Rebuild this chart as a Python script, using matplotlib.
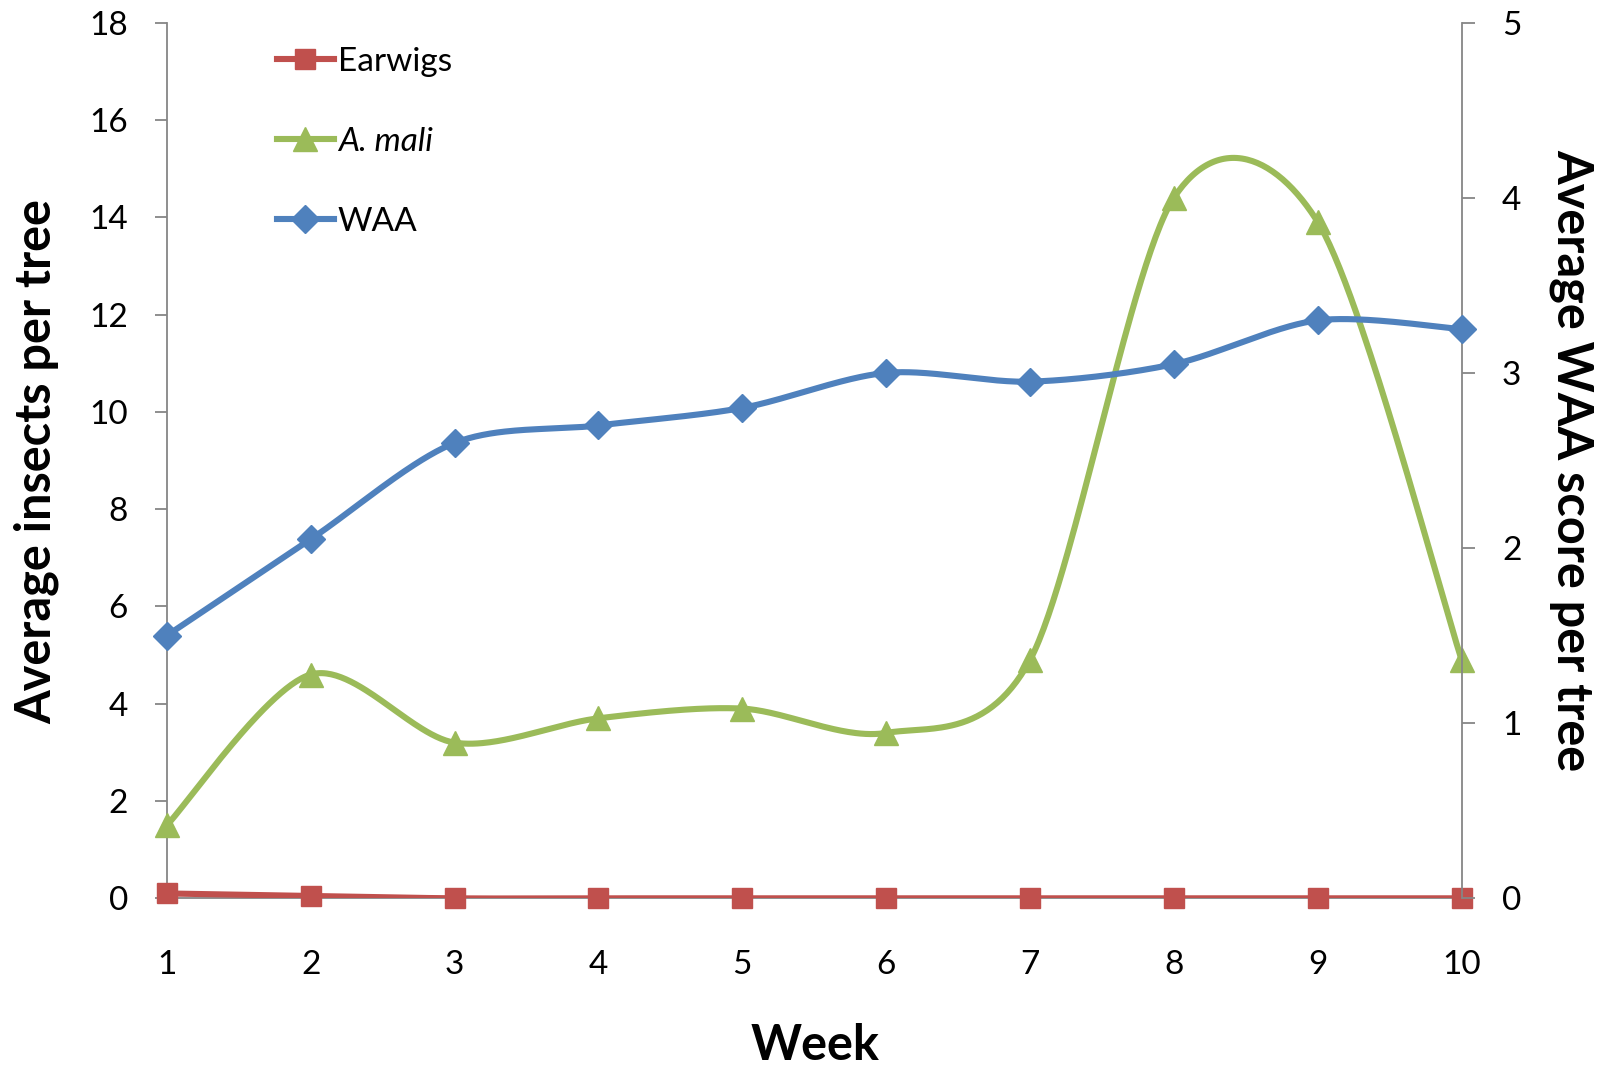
import numpy as np
import matplotlib
matplotlib.use("Agg")
import matplotlib.pyplot as plt
from matplotlib.lines import Line2D

plt.rcParams['font.family'] = ['Lato', 'DejaVu Sans']

# Weekly observations
weeks = [1, 2, 3, 4, 5, 6, 7, 8, 9, 10]
earwigs = [0.1, 0.05, 0, 0, 0, 0, 0, 0, 0, 0]
a_mali = [1.5, 4.6, 3.2, 3.7, 3.9, 3.4, 4.9, 14.4, 13.9, 4.9]
waa_score = [1.5, 2.05, 2.6, 2.7, 2.8, 3.0, 2.95, 3.05, 3.3, 3.25]

left_ticks = [0, 2, 4, 6, 8, 10, 12, 14, 16, 18]
right_ticks = [0, 1, 2, 3, 4, 5]

RED = '#C0504D'
GREEN = '#9BBB59'
BLUE = '#4F81BD'
AXIS_GREY = '#868686'


def smooth(x, y, n=60, k=0.15):
    """Cardinal-spline style Bezier smoothing through every point."""
    pts = np.column_stack([np.asarray(x, float), np.asarray(y, float)])
    P = np.vstack([pts[0], pts, pts[-1]])
    t = np.linspace(0, 1, n)[:, None]
    out = []
    for i in range(len(pts) - 1):
        p0, p1, p2, p3 = P[i], P[i + 1], P[i + 2], P[i + 3]
        c1 = p1 + (p2 - p0) * k
        c2 = p2 - (p3 - p1) * k
        seg = ((1 - t) ** 3) * p1 + 3 * ((1 - t) ** 2) * t * c1 \
            + 3 * (1 - t) * t ** 2 * c2 + t ** 3 * p2
        out.append(seg if i == 0 else seg[1:])
    curve = np.vstack(out)
    return curve[:, 0], curve[:, 1]


fig = plt.figure(figsize=(16.05, 10.66), dpi=100)
ax = fig.add_axes([0.1039, 0.1573, 0.8068, 0.8215])
ax2 = ax.twinx()

LW = 4.4
TICK_FS = 24
LABEL_FS = 35

# Left axis series
xs, ys = smooth(weeks, earwigs)
ax.plot(xs, ys, color=RED, lw=LW, solid_capstyle='round', zorder=3)
ax.plot(weeks, earwigs, ls='none', marker='s', ms=14, color=RED,
        clip_on=False, zorder=4)

xs, ys = smooth(weeks, a_mali)
ax.plot(xs, ys, color=GREEN, lw=LW, solid_capstyle='round', zorder=3)
ax.plot(weeks, a_mali, ls='none', marker='^', ms=17, color=GREEN,
        clip_on=False, zorder=4)

# Right axis series
xs, ys = smooth(weeks, waa_score)
ax2.plot(xs, ys, color=BLUE, lw=LW, solid_capstyle='round', zorder=3)
ax2.plot(weeks, waa_score, ls='none', marker='D', ms=14, color=BLUE,
         clip_on=False, zorder=4)

ax.set_xlim(1, 10)
ax.set_ylim(0, 18)
ax2.set_ylim(0, 5)
ax.set_xticks(weeks)
ax.set_xticklabels([str(w) for w in weeks])
ax.set_yticks(left_ticks)
ax2.set_yticks(right_ticks)

for side in ['top', 'right']:
    ax.spines[side].set_visible(False)
for side in ['top', 'left', 'bottom']:
    ax2.spines[side].set_visible(False)
ax.spines['left'].set_color(AXIS_GREY)
ax.spines['bottom'].set_color(AXIS_GREY)
ax2.spines['right'].set_color(AXIS_GREY)
for sp in [ax.spines['left'], ax.spines['bottom'], ax2.spines['right']]:
    sp.set_linewidth(1.3)
ax.spines['bottom'].set_zorder(1)

ax.tick_params(axis='y', direction='out', length=9, width=1.3,
               color=AXIS_GREY, labelsize=TICK_FS, pad=19)
ax2.tick_params(axis='y', direction='out', length=9, width=1.3,
                color=AXIS_GREY, labelsize=TICK_FS, pad=20)
ax.tick_params(axis='x', length=0, labelsize=TICK_FS, pad=37)

fig.text(0.0225, 0.567, 'Average insects per tree', rotation=90,
         ha='center', va='center', fontsize=LABEL_FS, fontweight='bold')
fig.text(0.979, 0.568, 'Average WAA score per tree', rotation=270,
         ha='center', va='center', fontsize=LABEL_FS, fontweight='bold')
fig.text(0.5078, 0.006, 'Week', ha='center', va='baseline',
         fontsize=LABEL_FS, fontweight='bold')

handles = [
    Line2D([], [], color=RED, lw=LW, marker='s', ms=14),
    Line2D([], [], color=GREEN, lw=LW, marker='^', ms=17),
    Line2D([], [], color=BLUE, lw=LW, marker='D', ms=14),
]
leg = ax2.legend(handles, ['Earwigs', 'A. mali', 'WAA'],
                 loc='upper left',
                 bbox_to_anchor=(277 / 1605, 1 - 47 / 1066),
                 bbox_transform=fig.transFigure,
                 frameon=False, fontsize=TICK_FS, numpoints=1,
                 handlelength=1.7, handletextpad=0.12,
                 labelspacing=1.5, borderpad=0, borderaxespad=0)
leg.get_texts()[1].set_style('italic')

fig.savefig('out.png', dpi=100)
